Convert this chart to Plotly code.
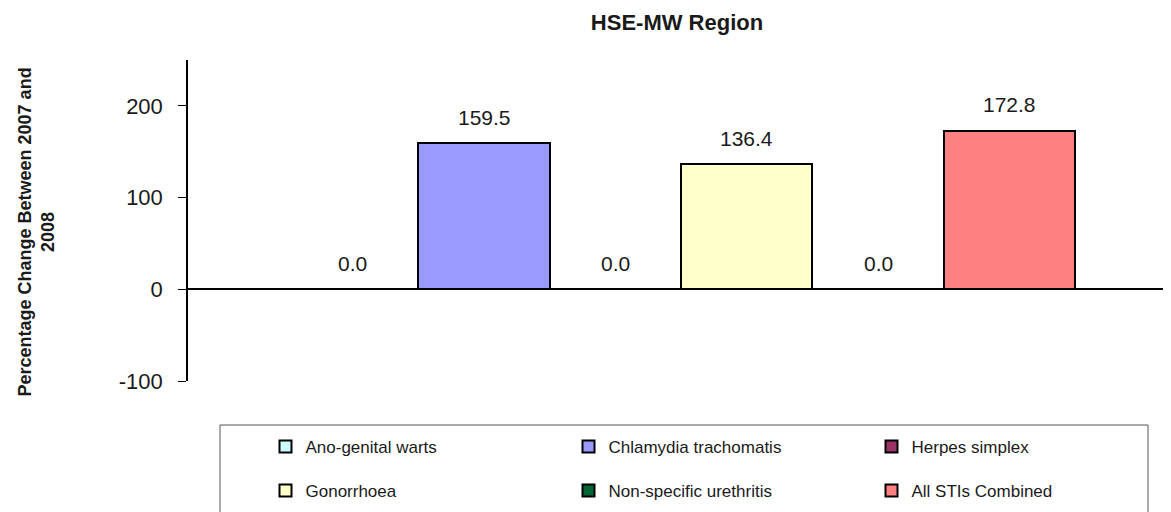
import plotly.graph_objects as go

categories = ["Ano-genital warts", "Chlamydia trachomatis", "Herpes simplex",
              "Gonorrhoea", "Non-specific urethritis", "All STIs Combined"]
values = [0.0, 159.5, 0.0, 136.4, 0.0, 172.8]
colors = ["#CCFFFF", "#9999FF", "#993366", "#FFFFCC", "#006633", "#FF8080"]
legend_rows = ["legend", "legend", "legend", "legend2", "legend2", "legend2"]
y_ticks = [-100, 0, 100, 200]
y_tick_text = ["-100", "0", "100", "200"]

FONT = "Liberation Sans, Arial, sans-serif"

# figure-space layout (page body adds an 8px offset)
L, T, B = 180, 52, 139
PLOT_W = 1171 - L
PLOT_H = 512 - T - B
BOTTOM = T + PLOT_H


def py(pix):
    return (BOTTOM - pix) / PLOT_H


def px(pix):
    return (pix - L) / PLOT_W


fig = go.Figure()
for cat, val, col, lg in zip(categories, values, colors, legend_rows):
    fig.add_trace(go.Bar(
        x=[cat], y=[val], name=cat, legend=lg,
        marker=dict(color=col, line=dict(color="black", width=2)),
        width=1.0,
    ))
    fig.add_annotation(x=cat, y=val, text=f"{val:.1f}", showarrow=False,
                       yanchor="middle", yshift=26,
                       font=dict(family=FONT, size=21, color="#1a1a1a"))

legend_style = dict(orientation="h", x=px(257.5), xanchor="left", yanchor="middle",
                    entrywidth=258, entrywidthmode="pixels",
                    font=dict(family=FONT, size=17, color="#1a1a1a"),
                    bgcolor="rgba(0,0,0,0)", borderwidth=0, traceorder="normal")

fig.update_layout(
    width=1171, height=512,
    margin=dict(l=L, r=0, t=T, b=B, autoexpand=False),
    paper_bgcolor="white", plot_bgcolor="white",
    barmode="overlay", bargap=0,
    title=dict(text="<b>HSE-MW Region</b>", x=px(669), xref="paper", xanchor="center",
               y=1 - 14 / 512, yanchor="middle",
               font=dict(family=FONT, size=22, color="#1a1a1a")),
    font=dict(family=FONT, color="#1a1a1a"),
    showlegend=True,
    legend=dict(legend_style, y=py(439)),
    legend2=dict(legend_style, y=py(483)),
    xaxis=dict(type="category", range=[-1.254, 6.292], showticklabels=False,
               showline=False, showgrid=False, ticks="", zeroline=False,
               automargin=False),
    yaxis=dict(range=[-100, 250], tickvals=y_ticks, ticktext=y_tick_text,
               ticks="outside", ticklen=8,
               tickcolor="black", tickwidth=1, ticklabelstandoff=11,
               showline=True, linecolor="black", linewidth=1.5,
               showgrid=False, zeroline=True, zerolinecolor="black", zerolinewidth=1.5,
               automargin=False,
               tickfont=dict(family=FONT, size=22, color="#1a1a1a")),
    shapes=[dict(type="rect", xref="paper", yref="paper",
                 x0=px(212), x1=px(1140), y0=py(417), y1=py(560),
                 line=dict(color="#555555", width=1), fillcolor="rgba(0,0,0,0)",
                 layer="below")],
)

fig.add_annotation(xref="paper", yref="paper", x=0, y=0.5, xshift=-152, yshift=-12,
                   text="<b>Percentage Change Between 2007 and<br>2008</b>",
                   textangle=-90, showarrow=False, xanchor="center", yanchor="middle",
                   font=dict(family=FONT, size=18, color="#1a1a1a"))

fig.write_html("out.html")
